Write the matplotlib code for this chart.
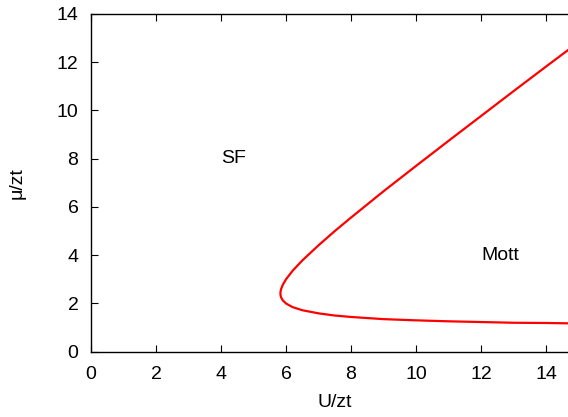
import matplotlib
matplotlib.use("Agg")
import matplotlib.pyplot as plt

# Mott lobe boundary (lower branch -> tip -> upper branch)
u_zt = [15.0, 14.0, 13.0, 12.0, 11.0, 10.0, 9.0, 8.0, 7.5, 7.0, 6.5, 6.2, 6.0,
        5.9, 5.85, 5.835, 5.828, 5.835, 5.85, 5.9, 6.0, 6.2, 6.5, 7.0, 7.5,
        8.0, 9.0, 10.0, 11.0, 12.0, 13.0, 14.0, 15.0]
mu_zt = [1.17, 1.19, 1.20, 1.23, 1.26, 1.30, 1.35, 1.44, 1.50, 1.59, 1.72, 1.85, 2.00,
         2.13, 2.25, 2.32, 2.414, 2.51, 2.60, 2.77, 3.00, 3.35, 3.78, 4.41, 5.00,
         5.56, 6.65, 7.70, 8.74, 9.77, 10.80, 11.82, 12.83]

plt.rcParams['font.family'] = ['Liberation Sans', 'DejaVu Sans']

fig = plt.figure(figsize=(5.68, 4.17), dpi=100)
# axes extends past the right edge, like the cropped original
ax = fig.add_axes([91 / 568, 65.3 / 417, 15 * 32.5 / 568, 337.7 / 417])

ax.plot(u_zt, mu_zt, color='red', linewidth=1.6)

ax.set_xlim(0, 15)
ax.set_ylim(0, 14)
ax.set_xticks(range(0, 15, 2))
ax.set_yticks(range(0, 15, 2))
ax.tick_params(direction='in', length=5, top=True, right=True, labelsize=14)
ax.tick_params(axis='x', pad=10)
ax.tick_params(axis='y', pad=9)
for s in ax.spines.values():
    s.set_linewidth(1)

ax.set_xlabel('U/zt', fontsize=14, labelpad=8)
ax.set_ylabel('μ/zt', fontsize=14, labelpad=22)

ax.text(4, 8, 'SF', fontsize=14, ha='left', va='center')
ax.text(12, 4, 'Mott', fontsize=14, ha='left', va='center')

fig.savefig('out.png', dpi=100)
